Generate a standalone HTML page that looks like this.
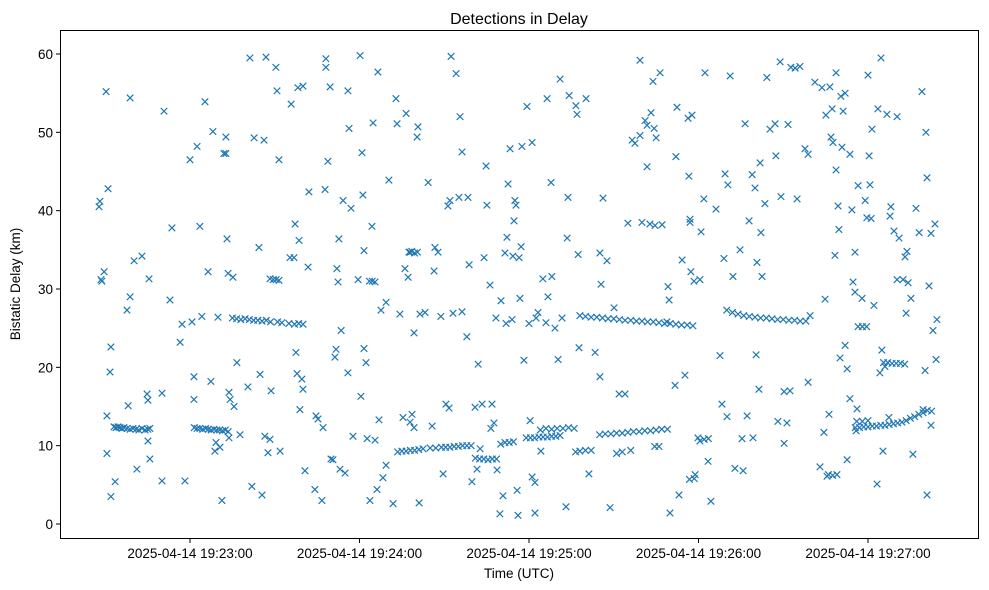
<!DOCTYPE html>
<html><head><meta charset="utf-8"><style>
html,body{margin:0;padding:0;background:#fff;}
svg{display:block;font-family:"Liberation Sans","DejaVu Sans",sans-serif;}
</style></head><body>
<svg id="chart" width="989" height="590" viewBox="0 0 989 590">
<rect x="0" y="0" width="989" height="590" fill="#fff"/>
<text x="519" y="24" font-size="16" text-anchor="middle" fill="#000">Detections in Delay</text>
<g id="marks"></g>
<g id="axes"></g>
<rect x="60.5" y="30.5" width="918" height="508" fill="none" stroke="#000" stroke-width="1"/>
<text x="519" y="578" font-size="13.5" text-anchor="middle">Time (UTC)</text>
<text x="20" y="284" font-size="13.5" text-anchor="middle" transform="rotate(-90 20 284)">Bistatic Delay (km)</text>
</svg>
<script>
// seconds after 19:22:00 UTC
const xTickSeconds = [60, 120, 180, 240, 300];
const xTickLabels = ["2025-04-14 19:23:00","2025-04-14 19:24:00","2025-04-14 19:25:00","2025-04-14 19:26:00","2025-04-14 19:27:00"];
const yTickValues = [0, 10, 20, 30, 40, 50, 60];
const yTickLabels = ["0","10","20","30","40","50","60"];
// [seconds after 19:22:00, bistatic delay km]
const detections = [
[27.8,40.5],[28.1,41.2],[28.5,31.2],[28.8,31],[29.6,32.2],[30.3,55.2],[30.6,9],[31,42.8],[30.6,13.8],[31.7,19.4],[32,22.6],[32,3.5],[33.5,5.4],
[33.1,12.4],[33.8,12.3],[34.5,12.4],[35.2,12.3],[35.9,12.2],[36.6,12.3],[37.7,12.2],[38.8,12.1],[39.8,12.2],[40.9,12.1],[41.9,12.0],[43,12.2],[44.1,12.0],[45.1,12.1],[45.8,12.2],
[37.7,27.3],[38.1,15.1],[38.8,54.4],[38.8,29],[40.2,33.6],[41.2,7],[43,34.2],[44.8,16.6],[45.1,15.8],[45.1,10.6],[45.5,31.3],[45.8,8.3],[50.1,16.7],[50.1,5.5],[50.8,52.7],[52.9,28.6],[53.6,37.8],[56.5,23.2],[57.2,25.5],[58.2,5.5],
[60,46.5],[60.7,25.8],[61.4,18.8],[61.4,15.9],[62.5,48.2],[63.5,38],[64.2,26.5],[65.3,53.9],[66.4,32.2],[67.4,18.2],[68.1,50.1],[68.8,9.3],[69.2,10.4],[69.9,26.4],[70.6,9.8],[71.3,3],[72,47.3],[72.7,47.3],[72.7,49.4],[73.1,36.4],[73.5,32],[73.8,16.8],[73.8,11],[74.2,15.9],[75.2,31.5],[75.6,15],[76.6,20.6],[77.7,11.4],[80.5,17.5],[81.2,59.5],[81.9,4.8],[82.7,49.3],[84.4,35.3],[84.8,19.1],[85.5,3.7],[86.2,49],[86.5,11.2],[86.9,59.6],[87.6,9.1],[88.7,17],[88.3,10.8],[90.4,58.3],[90.8,55.3],[91.5,46.5],[91.9,9.3],
[61.5,12.3],[62.5,12.2],[63.5,12.2],[64.5,12.1],[65.5,12.2],[66.5,12.1],[67.5,12.0],[68.5,12.1],[69.5,12.0],[70.5,12.0],[71.5,11.9],[72.5,12.0],[73.5,11.8],
[75,26.3],[76.5,26.2],[78,26.1],[79.5,26.2],[81,26.1],[82.5,26.0],[84,26.0],[85.5,25.9],[87,26.0],[88.5,25.8],[91,25.8],[92.5,25.7],[95,25.6],[97,25.5],[98.5,25.6],[100,25.5],
[88.3,31.3],[89.5,31.2],[90.5,31.2],[91.5,31.1],
[95.4,34],[95.8,53.6],[96.8,34],[97.2,38.3],[97.5,21.9],[97.9,19.2],[98.2,55.7],[98.6,36.2],[98.9,14.6],[99.6,18.5],[100,17.2],[100,55.9],[100.7,6.8],[101.8,32.8],[102.1,42.4],[104.2,4.4],[104.6,13.8],[105.3,13.4],[106.7,3],[107.1,12.3],[107.8,42.7],[108.1,59.4],[108.1,58.3],[108.8,46.3],[109.6,55.8],[109.9,8.3],[110.6,8.2],[111.3,21.3],[111.7,22.3],[112,32.6],[112.4,30.9],[112.7,36.4],[113.1,7],[113.5,24.7],[114.2,41.3],[114.9,6.5],[115.9,19.3],[116.3,50.5],[115.9,55.3],[117,40.3],[117.7,11.2],[119.5,31.2],
[120.2,59.8],[120.5,16.3],[120.9,47.4],[121.2,42],[121.6,34.9],[121.6,22.4],[122.3,20.6],[122.7,10.9],[123.7,3],[124.4,38],[124.8,51.2],[125.5,10.7],[126.2,4.4],[126.5,57.7],[126.9,13.3],[127.6,27.3],[128.3,5.9],[129.4,7.5],[129.4,28.3],[130.4,43.9],[131.9,2.6],[132.9,54.3],[133.3,51.1],[134.3,26.8],[135.4,13.6],[136.1,32.6],[136.5,52.4],[137.2,31.5],[137.9,13],[137.9,34.7],[138.6,14],[139.3,12.3],[139.3,24.4],[140.4,49.4],[140.7,50.7],[141.1,2.7],[141.4,26.8],[143.2,27],[144.3,43.6],[145.7,12.5],[146.4,32.3],[146.7,35.3],[147.8,34.7],[148.8,26.5],[149.6,6.4],[150.6,15.3],[151.3,40.6],[151.7,14.8],[152,41.3],[152.4,59.7],[153.1,26.9],[154.2,57.5],[155.6,52],[156.3,47.5],[155.2,41.7],[156.3,27.1],[158,23.9],[158.4,41.7],[158.8,33.1],[159.8,5.4],
[123.5,31.0],[124.5,31.0],[125.5,30.9],
[137.5,34.7],[138.5,34.8],[139.5,34.6],[140.5,34.7],
[133.5,9.2],[135,9.3],[136.5,9.3],[138,9.4],[139.5,9.4],[141,9.5],[142.5,9.6],[145,9.7],[147,9.7],[149,9.8],[150.5,9.8],[152,9.8],[153.5,9.9],[155,9.9],[156.5,10.0],[158,10.0],[159.5,10.0],
[160.9,14.9],[161.6,7],[162,20.4],[162.7,9.6],[163.4,15.3],[164.1,34],[164.8,45.7],[165.1,40.7],[166.2,30.5],[166.5,12.2],[166.9,15.3],[167.6,12.9],[168.3,26.3],[168.7,6.9],[169.7,1.3],[170.1,28.5],[170.8,3.6],[171.5,34.6],[171.9,25.6],[172.2,36.6],[172.6,43.4],[173.3,47.9],[174,26.1],[174.3,34.2],[174.7,38.7],[175,41.3],[175.4,40.7],[175.8,4.3],[176.1,1.1],[176.5,34],[176.8,28.8],[177.2,35.4],[177.5,48.2],[178.2,20.9],[179.3,53.3],
[161,8.4],[162.5,8.3],[164,8.3],[165.5,8.2],[167,8.3],[168.5,8.3],[170,10.2],[171.5,10.4],[173,10.4],[174.5,10.5],
[180,25.6],[180.4,13.2],[181.1,48.7],[181.1,6],[182.1,1.4],[182.1,5.3],[182.5,26.3],[183.2,27],[184.2,9.3],[184.9,31.3],[186,25.7],[186.4,54.3],[186.7,29],[187.8,43.6],[188.1,31.6],[189.2,25],[190.3,21],[191,56.8],[191.7,26.3],[193.1,2.2],[193.5,36.5],[193.8,41.7],[194.2,54.7],[196.6,53.4],[197,52.3],[197.4,34.4],[197.7,22.5],[200.2,54.3],[203.4,21.9],[201.2,6.4],
[179,11.0],[180.5,11.0],[182,11.0],[183.5,11.1],[185,11.1],[186.5,11.1],[188,11.2],[189.5,11.2],[191,11.3],
[184,12.0],[186,12.2],[188,12.1],[190,12.2],[192,12.2],[194,12.3],[196,12.2],
[196.5,9.2],[198,9.3],[200,9.4],[202,9.4],
[205.1,18.8],[205.5,30.6],[206.2,41.6],[205.1,34.6],[207.6,33.6],[208.7,2.1],[210.1,27.6],[211.9,16.6],[214,16.6],[215,38.4],[216.5,49],[217.5,48.6],[219.3,59.2],[219.3,49.6],[220,38.5],[221.1,51.5],[221.8,50.9],[221.8,45.6],[222.8,38.3],[223.2,52.5],[223.9,56.5],[224.3,50.5],[224.6,38.1],[225,49.3],[226.4,57.6],[227.1,38.2],[228.8,25.8],[229.2,30.3],[229.6,28.6],[229.9,1.4],[231.7,17.7],[232,46.9],[232.4,53.2],[233.1,3.7],[234.2,33.7],[235.2,19],[236.3,51.8],[236.6,44.4],[237,38.9],[237,38.5],[237.3,32.2],[237.7,52.2],[238.4,31],[238.8,6.3],[239.8,11],
[205,11.4],[207,11.5],[209,11.5],[211,11.6],[213,11.6],[215,11.7],[217,11.8],[219,11.8],[221,11.9],[223,11.9],[225,12.0],[227,12.1],[229,12.1],
[224.5,9.9],[226,9.9],[211,9.0],[213,9.2],[216,9.4],
[198,26.6],[200,26.5],[202,26.4],[204,26.4],[206,26.3],[208,26.2],[210,26.2],[212,26.1],[214,26.0],[216,26.0],[218,25.9],[220,25.9],[222,25.8],[224,25.8],[226,25.7],[228,25.6],[230,25.6],[232,25.5],[234,25.4],[236,25.4],[238,25.3],
[236.8,5.7],[238.5,5.8],
[240.5,31.2],[240.9,37.3],[242.3,57.6],[241.9,41.5],[243.4,8],[244.4,2.9],[246.2,40.2],[247.6,21.5],[248.3,15.3],[249,33.9],[249.4,44.7],[250.1,13.7],[250.4,43.3],[251.2,57.2],[252.2,31.6],[252.9,7.1],[254.7,35],[255.4,10.9],[255.8,6.8],[256.5,51.1],[257.2,13.8],[257.9,38.7],[259,44.6],[259.3,11],[260,42.9],[260.4,21.6],[260.7,33.4],[261.4,17.2],[261.8,46.1],[262.1,37.2],[262.5,31.6],[263.5,40.9],[264.2,57],[265.3,50.4],[267.1,51.1],[267.4,47],[268.1,13.1],[268.9,59],[269.2,41.8],[270.3,16.9],[270.3,10.3],[271.3,12.9],[271.7,51],[272.4,17],[272.7,58.3],[274.2,58.2],[274.9,41.5],[275.9,58.4],[277.7,47.9],[278.8,18.1],[278.8,47.2],[279.5,26.6],
[240.5,10.6],[242,10.8],[243.5,10.9],
[250,27.3],[252,27.0],[254,26.8],[256,26.6],[258,26.5],[260,26.4],[262,26.3],[264,26.3],[266,26.2],[268,26.1],[270,26.1],[272,26.0],[274,26.0],[276,25.9],[278,25.9],
[281.2,56.4],[283,7.3],[283.7,55.7],[284.4,11.7],[284.8,28.7],[285.1,52.2],[285.5,6.1],[286.2,14],[286.5,55.8],[286.9,49.4],[287.3,53],[287.6,48.7],[288.7,57.6],[288.7,45.2],[288.3,34.3],[289.4,40.6],[289.7,37.6],[290.1,21.2],[290.4,54.6],[290.8,48.1],[291.2,52.7],[291.9,22.8],[291.9,55],[292.6,8.2],[292.6,19.8],[293.6,16],[293.6,47.2],[294.3,40.1],[294.7,30.9],[295.4,29.6],[295.4,34.7],[295.8,11.9],[296.1,14.7],[296.5,43.2],[297.9,28.8],[299,41.3],[299.6,39.1],
[286,6.3],[287.5,6.2],[289,6.3],
[300,57.3],[300.4,47],[300.7,43.3],[301.1,39],[301.4,50.4],[302.1,27.9],[303.2,5.1],[303.5,53],[304.2,19.3],[304.6,59.5],[304.9,22.2],[305.3,9.3],[306,20.1],[306.7,52.3],[307.4,13.6],[307.8,39.3],[308.1,40.5],[309.2,37.4],[310.3,52],[310.3,31.2],[311,36.5],[312.4,31.2],[313.1,34.1],[313.5,26.9],[313.8,34.8],[314.2,30.8],[315.2,28.8],[315.9,8.9],[317,40.3],[318.1,37.2],[319.1,55.2],[319.5,14.6],[320.5,50],[320.9,44.2],[321.6,30.4],[322.3,37.1],[323,24.7],[323.7,38.3],[324.1,21],[324.4,26.1],[320.9,3.7],[320.2,19.6],[322.3,12.6],
[295.5,12.3],[297,12.3],[298.5,12.4],[300,12.4],[301.5,12.5],[303,12.5],[304.5,12.6],[306,12.6],[307.5,12.7],[309,12.8],[310.5,12.9],[312,13.0],[313.5,13.2],[296,13.1],[298,13.1],[300,13.2],
[305.5,20.6],[307,20.6],[308.5,20.5],[310,20.5],[311.5,20.5],[313,20.4],
[296.5,25.2],[298,25.2],[299.5,25.2],
[315,13.5],[316.5,13.7],[318,14.0],[319.5,14.2],[321,14.5],[322.5,14.4]
];
const NS = "http://www.w3.org/2000/svg";
function xScale(s){ return 190 + (s - 60) * 169.5 / 60; }
function yScale(v){ return 524 - v * 470 / 60; }
const marks = document.getElementById('marks');
detections.forEach(function(d){
  const cx = xScale(d[0]), cy = yScale(d[1]), r = 3.3;
  const p = document.createElementNS(NS, 'path');
  p.setAttribute('d', 'M'+(cx-r)+' '+(cy-r)+'L'+(cx+r)+' '+(cy+r)+'M'+(cx-r)+' '+(cy+r)+'L'+(cx+r)+' '+(cy-r));
  p.setAttribute('stroke', '#1f77b4');
  p.setAttribute('stroke-width', '1.2');
  p.setAttribute('fill', 'none');
  
  
  marks.appendChild(p);
});
const axes = document.getElementById('axes');
xTickSeconds.forEach(function(s, i){
  const x = xScale(s);
  const t = document.createElementNS(NS, 'line');
  t.setAttribute('x1', x); t.setAttribute('x2', x); t.setAttribute('y1', 538.5); t.setAttribute('y2', 543);
  t.setAttribute('stroke', '#000');
  
  
  axes.appendChild(t);
  const l = document.createElementNS(NS, 'text');
  l.setAttribute('x', x); l.setAttribute('y', 558);
  l.setAttribute('font-size', '13.5'); l.setAttribute('text-anchor', 'middle');
  l.textContent = xTickLabels[i];
  
  
  axes.appendChild(l);
});
yTickValues.forEach(function(v, i){
  const y = yScale(v);
  const t = document.createElementNS(NS, 'line');
  t.setAttribute('x1', 56); t.setAttribute('x2', 60.5); t.setAttribute('y1', y); t.setAttribute('y2', y);
  t.setAttribute('stroke', '#000');
  
  
  axes.appendChild(t);
  const l = document.createElementNS(NS, 'text');
  l.setAttribute('x', 53); l.setAttribute('y', y + 5);
  l.setAttribute('font-size', '13.5'); l.setAttribute('text-anchor', 'end');
  l.textContent = yTickLabels[i];
  
  
  axes.appendChild(l);
});
</script>
</body></html>
